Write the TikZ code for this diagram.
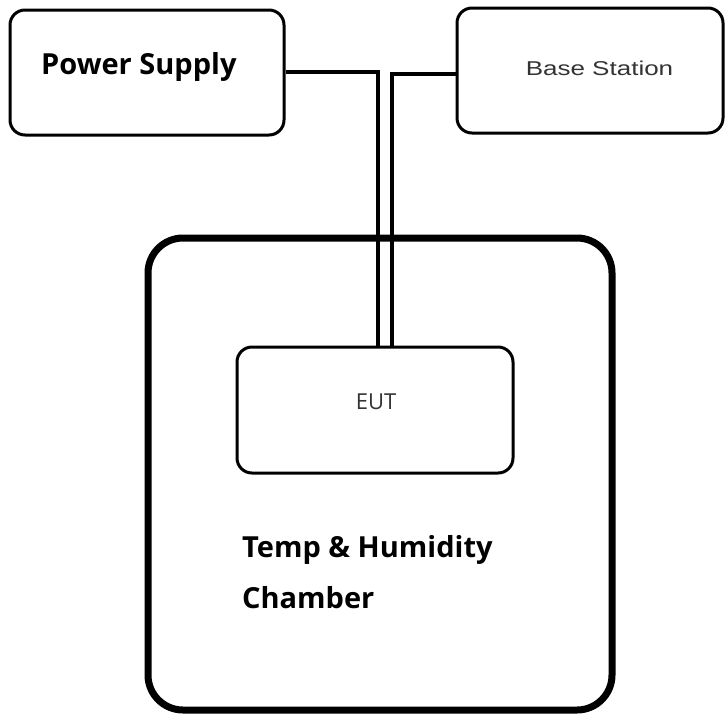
\documentclass[tikz,border=0pt]{standalone}
\usepackage{fontspec}
\setmainfont{Open Sans}
\newfontfamily\arialf{Liberation Sans}
\definecolor{txtgray}{HTML}{333333}
\begin{document}
\begin{tikzpicture}[x=1pt,y=-1pt,
  box/.style={draw=black,line width=3pt,rounded corners=15pt,fill=white,inner sep=0pt},
  wire/.style={draw=black,line width=3.5pt},
  bigtxt/.style={inner sep=0pt,font=\fontsize{29}{34}\selectfont\bfseries}]
\useasboundingbox (0,0) rectangle (725,715);
\fill[white] (0,0) rectangle (725,715);
% chamber
\node[box,line width=7pt,rounded corners=35pt,minimum width=464pt,minimum height=472pt] (ch) at (380,474) {};
% boxes
\node[box,minimum width=274pt,minimum height=125pt] (ps) at (147,72.5) {};
\node[box,minimum width=266pt,minimum height=125pt] (bs) at (590,70.5) {};
\node[box,minimum width=276pt,minimum height=126pt] (eut) at (375,410) {};
% texts
\node[bigtxt,anchor=base west] (pst) at (41,74) {Power Supply};
\node[inner sep=0pt,anchor=base,text=txtgray] (bst) at (599.5,75) {\scalebox{1.3}[1]{\arialf\fontsize{20}{24}\selectfont Base Station}};
\node[inner sep=0pt,anchor=base,text=txtgray,font=\fontsize{22}{26}\selectfont] (eutt) at (376,409) {EUT};
\node[bigtxt,anchor=base west] (cht1) at (242,557) {Temp \& Humidity};
\node[bigtxt,anchor=base west] (cht2) at (242,608) {Chamber};
% wires
\coordinate (c1) at (378,72);
\coordinate (c2) at (392,74);
\draw[wire] (ps.east |- c1) -- (c1) -- (c1 |- eut.north);
\draw[wire] (bs.west |- c2) -- (c2) -- (c2 |- eut.north);
\end{tikzpicture}
\end{document}
